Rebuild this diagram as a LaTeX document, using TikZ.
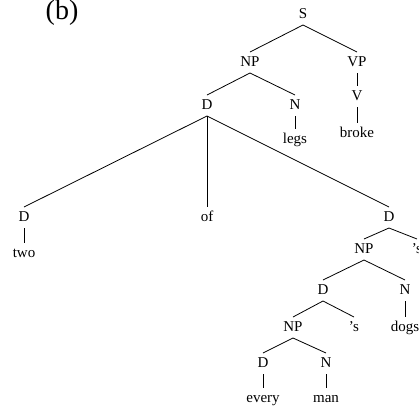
\documentclass[tikz,border=0pt]{standalone}
\usepackage{fontspec}
\setmainfont{Liberation Serif}
\begin{document}
\begin{tikzpicture}[x=1bp,y=-1bp,
  lab/.style={font=\fontsize{15bp}{18bp}\selectfont, inner xsep=1bp, inner ysep=4bp, outer sep=0pt, text height=10bp, text depth=3bp, anchor=base},
  edge/.style={draw=black, line width=0.8bp}]
\useasboundingbox (0,0) rectangle (419,407);
\node[font=\fontsize{28bp}{30bp}\selectfont, anchor=base, inner sep=0pt] (lbl) at (62,19) {(b)};
\node[lab] (S) at (303,18) {S};
\node[lab] (NP1) at (250,66) {NP};
\node[lab] (VP) at (357,66) {VP};
\node[lab] (D1) at (207,109) {D};
\node[lab] (N1) at (295,109) {N};
\node[lab] (V) at (357,100) {V};
\node[lab] (broke) at (357,137) {broke};
\node[lab] (legs) at (295,143) {legs};
\node[lab] (D2) at (24,221) {D};
\node[lab] (two) at (24,257) {two};
\node[lab] (of) at (207,221) {of};
\node[lab] (D3) at (389,221) {D};
\node[lab] (NP2) at (364,253) {NP};
\node[lab] (s1) at (417,253) {'s};
\node[lab] (D4) at (323,294) {D};
\node[lab] (N2) at (405,294) {N};
\node[lab] (NP3) at (293,331) {NP};
\node[lab] (s2) at (354,331) {'s};
\node[lab] (dogs) at (405,331) {dogs};
\node[lab] (D5) at (263,367) {D};
\node[lab] (N3) at (326,367) {N};
\node[lab] (every) at (263,402) {every};
\node[lab] (man) at (326,402) {man};
\path[edge] (S.south) -- (NP1.north);
\path[edge] (S.south) -- (VP.north);
\path[edge] (NP1.south) -- (D1.north);
\path[edge] (NP1.south) -- (N1.north);
\path[edge] (VP.south) -- (V.north);
\path[edge] (V.south) -- (broke.north);
\path[edge] (N1.south) -- (legs.north);
\path[edge] (D1.south) -- (D2.north);
\path[edge] (D1.south) -- (of.north);
\path[edge] (D1.south) -- (D3.north);
\path[edge] (D2.south) -- (two.north);
\path[edge] (D3.south) -- (NP2.north);
\path[edge] (D3.south) -- (s1.north);
\path[edge] (NP2.south) -- (D4.north);
\path[edge] (NP2.south) -- (N2.north);
\path[edge] (D4.south) -- (NP3.north);
\path[edge] (D4.south) -- (s2.north);
\path[edge] (N2.south) -- (dogs.north);
\path[edge] (NP3.south) -- (D5.north);
\path[edge] (NP3.south) -- (N3.north);
\path[edge] (D5.south) -- (every.north);
\path[edge] (N3.south) -- (man.north);
\end{tikzpicture}
\end{document}
